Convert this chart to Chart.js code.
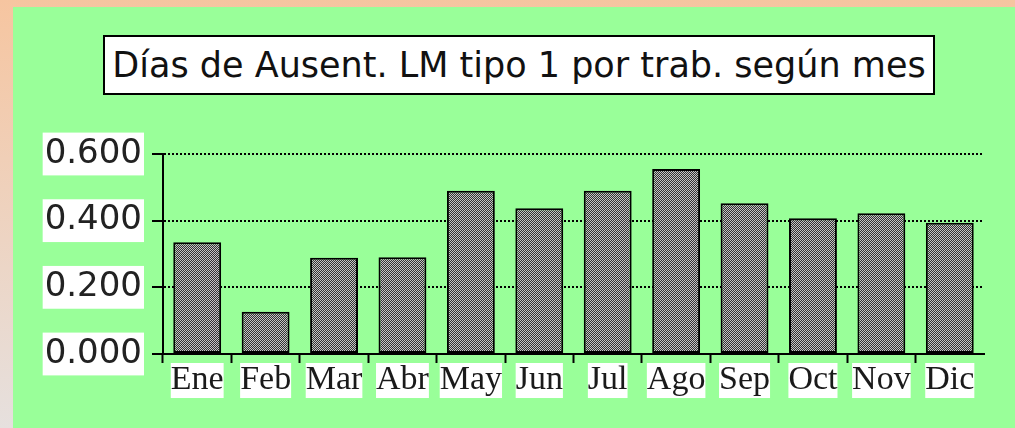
<!DOCTYPE html>
<html>
<head>
<meta charset="utf-8">
<script src="https://cdn.jsdelivr.net/npm/chart.js@4.4.0/dist/chart.umd.min.js"></script>
<style>
  html, body { margin: 0; padding: 0; }
  body {
    width: 1015px; height: 428px; overflow: hidden; position: relative;
    background: linear-gradient(to bottom, #f6c5a0 0%, #e6e0de 100%);
  }
  #panel { position: absolute; left: 13px; top: 7px; width: 1002px; height: 421px; background: #99ff99; }
  #title {
    position: absolute; left: 90px; top: 28px; width: 828px; height: 56px;
    border: 2px solid #000; background: #fff; color: #111;
    font: 35px "DejaVu Sans"; line-height: 56px; text-align: center; white-space: nowrap;
  }
  canvas { position: absolute; left: 0; top: 0; }
</style>
</head>
<body>
<div id="panel">
  <canvas id="chart" width="1002" height="421"></canvas>
  <div id="title">Días de Ausent. LM tipo 1 por trab. según mes</div>
</div>
<script>
  // data
  var months = ['Ene', 'Feb', 'Mar', 'Abr', 'May', 'Jun', 'Jul', 'Ago', 'Sep', 'Oct', 'Nov', 'Dic'];
  var daysAbsent = [0.335, 0.127, 0.289, 0.290, 0.490, 0.437, 0.490, 0.555, 0.452, 0.407, 0.422, 0.394];
  var yTicks = [0, 0.2, 0.4, 0.6];

  // dithered grey fill like the old mac chart
  function makePattern() {
    var c = document.createElement('canvas');
    c.width = 2; c.height = 2;
    var g = c.getContext('2d');
    g.fillStyle = '#333';
    g.fillRect(0, 0, 2, 2);
    g.fillStyle = '#c4c4c4';
    g.fillRect(0, 0, 1, 1);
    g.fillRect(1, 1, 1, 1);
    return g.createPattern(c, 'repeat');
  }

  var ctx = document.getElementById('chart').getContext('2d');
  new Chart(ctx, {
    type: 'bar',
    data: {
      labels: months,
      datasets: [{
        data: daysAbsent,
        backgroundColor: makePattern(),
        borderColor: '#000',
        borderWidth: 2,
        borderSkipped: false,
        categoryPercentage: 1,
        barPercentage: 0.7
      }]
    },
    options: {
      responsive: false,
      animation: false,
      devicePixelRatio: 1,
      layout: { padding: { left: 0, top: 147, right: 31, bottom: 0 } },
      plugins: { legend: { display: false }, tooltip: { enabled: false }, title: { display: false } },
      scales: {
        x: {
          afterFit: function (s) { s.height = 74; },
          border: { display: true, color: '#000', width: 2 },
          grid: {
            offset: true,
            drawOnChartArea: false,
            tickLength: 9,
            tickWidth: 2,
            tickColor: function (c) { return c.index === undefined ? 'rgba(0,0,0,0)' : '#000'; }
          },
          ticks: {
            color: '#1a1a1a',
            font: { family: 'Liberation Serif', size: 34, lineHeight: 1.03 },
            padding: 0,
            autoSkip: false,
            maxRotation: 0,
            showLabelBackdrop: true,
            backdropColor: '#fff',
            backdropPadding: 0
          }
        },
        y: {
          min: 0,
          max: 0.6,
          afterFit: function (s) { s.width = 150; },
          afterBuildTicks: function (s) { s.ticks = yTicks.map(function (v) { return { value: v }; }); },
          border: { display: true, color: '#000', width: 2, dash: [2, 2] },
          grid: {
            color: '#000',
            lineWidth: 2,
            tickBorderDash: [],
            tickColor: '#000',
            tickLength: 11,
            tickWidth: 2
          },
          ticks: {
            color: '#222',
            font: { family: 'DejaVu Sans', size: 34 },
            padding: 10,
            showLabelBackdrop: true,
            backdropColor: '#fff',
            backdropPadding: { x: 2, y: 1 },
            callback: function (v) { return Number(v).toFixed(3); }
          }
        }
      }
    }
  });
</script>
</body>
</html>
